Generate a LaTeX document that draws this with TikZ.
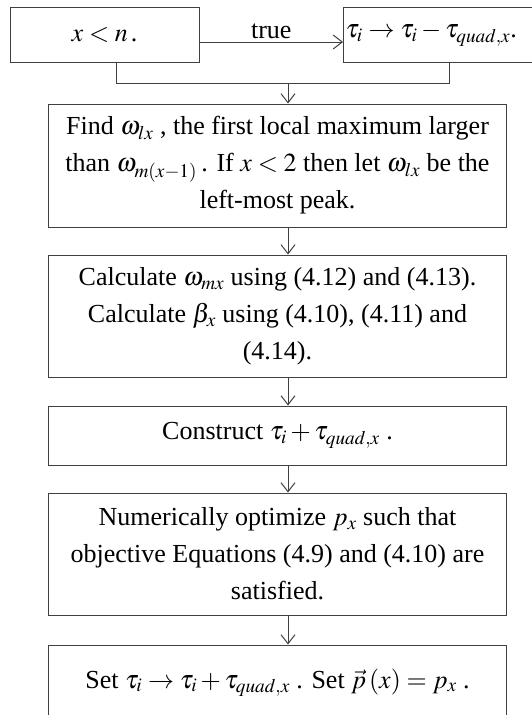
\documentclass[tikz,border=0pt]{standalone}
\usepackage{mathptmx}
\usepackage[no-math]{fontspec}
\setmainfont{Liberation Serif}
\usetikzlibrary{positioning,arrows.meta}
\tikzset{
  stepbox/.style={draw=black!75, line width=1pt, align=center, inner sep=2pt,
    font=\fontsize{26}{37}\selectfont},
  flow/.style={draw=black!75, line width=1pt,
    -{Straight Barb[length=9pt,width=14pt,line width=1pt]}},
  link/.style={draw=black!75, line width=1pt}
}

\begin{document}
\begin{tikzpicture}[x=1pt,y=-1pt]
  \useasboundingbox (0,0) rectangle (532,715);
  % top row
  \node[stepbox, minimum width=189pt, minimum height=55pt] (cond) at (104.5,34.5) {$x<n\,$.};
  \node[stepbox, anchor=west, minimum width=200pt, minimum height=55pt,
    text width=196pt, align=left] (upd) at (343,34.5) {$\tau_i\rightarrow\tau_i-\tau_{quad,x}$.};
  \draw[flow] (cond.east |- 0,42) -- node[above, inner sep=3pt, font=\fontsize{26}{37}\selectfont] (tlab) {true} (upd.west |- 0,42);
  % main column
  \node[stepbox, minimum width=458pt, minimum height=123pt] (find) at (277.5,165.5)
    {Find\ $\omega_{lx}$\ , the first local maximum larger\\
     than $\omega_{m(x-1)}$\,. If\ $x<2$\ then let\ $\omega_{lx}$\ be the\\
     left-most peak.};
  \node[stepbox, minimum width=458pt, minimum height=122pt] (calc) at (277.5,316)
    {Calculate\ $\omega_{mx}$\ using (4.12) and (4.13).\\
     Calculate\ $\beta_x$\ using (4.10), (4.11) and\\
     (4.14).};
  \node[stepbox, minimum width=458pt, minimum height=59pt] (cons) at (277.5,435.5)
    {Construct\ $\tau_i+\tau_{quad,x}$\ .};
  \node[stepbox, minimum width=458pt, minimum height=122pt] (opt) at (277.5,554)
    {Numerically optimize\ $p_x$\ such that\\
     objective Equations (4.9) and (4.10) are\\
     satisfied.};
  \node[stepbox, minimum width=458pt, minimum height=75pt] (set) at (277.5,682.5)
    {Set\ $\tau_i\rightarrow\tau_i+\tau_{quad,x}$\ . Set\ $\vec{p}\left(x\right)=p_x$\ .};
  % join and arrows
  \coordinate (jl) at (116,83);
  \coordinate (jr) at (449,83);
  \coordinate (spine) at (288,83);
  \draw[link] (cond.south -| jl) -- (jl) -- (jr) -- (upd.south -| jr);
  \draw[flow] (spine) -- (find.north -| spine);
  \draw[flow] (find.south -| spine) -- (calc.north -| spine);
  \draw[flow] (calc.south -| spine) -- (cons.north -| spine);
  \draw[flow] (cons.south -| spine) -- (opt.north -| spine);
  \draw[flow] (opt.south -| spine) -- (set.north -| spine);
\end{tikzpicture}
\end{document}
